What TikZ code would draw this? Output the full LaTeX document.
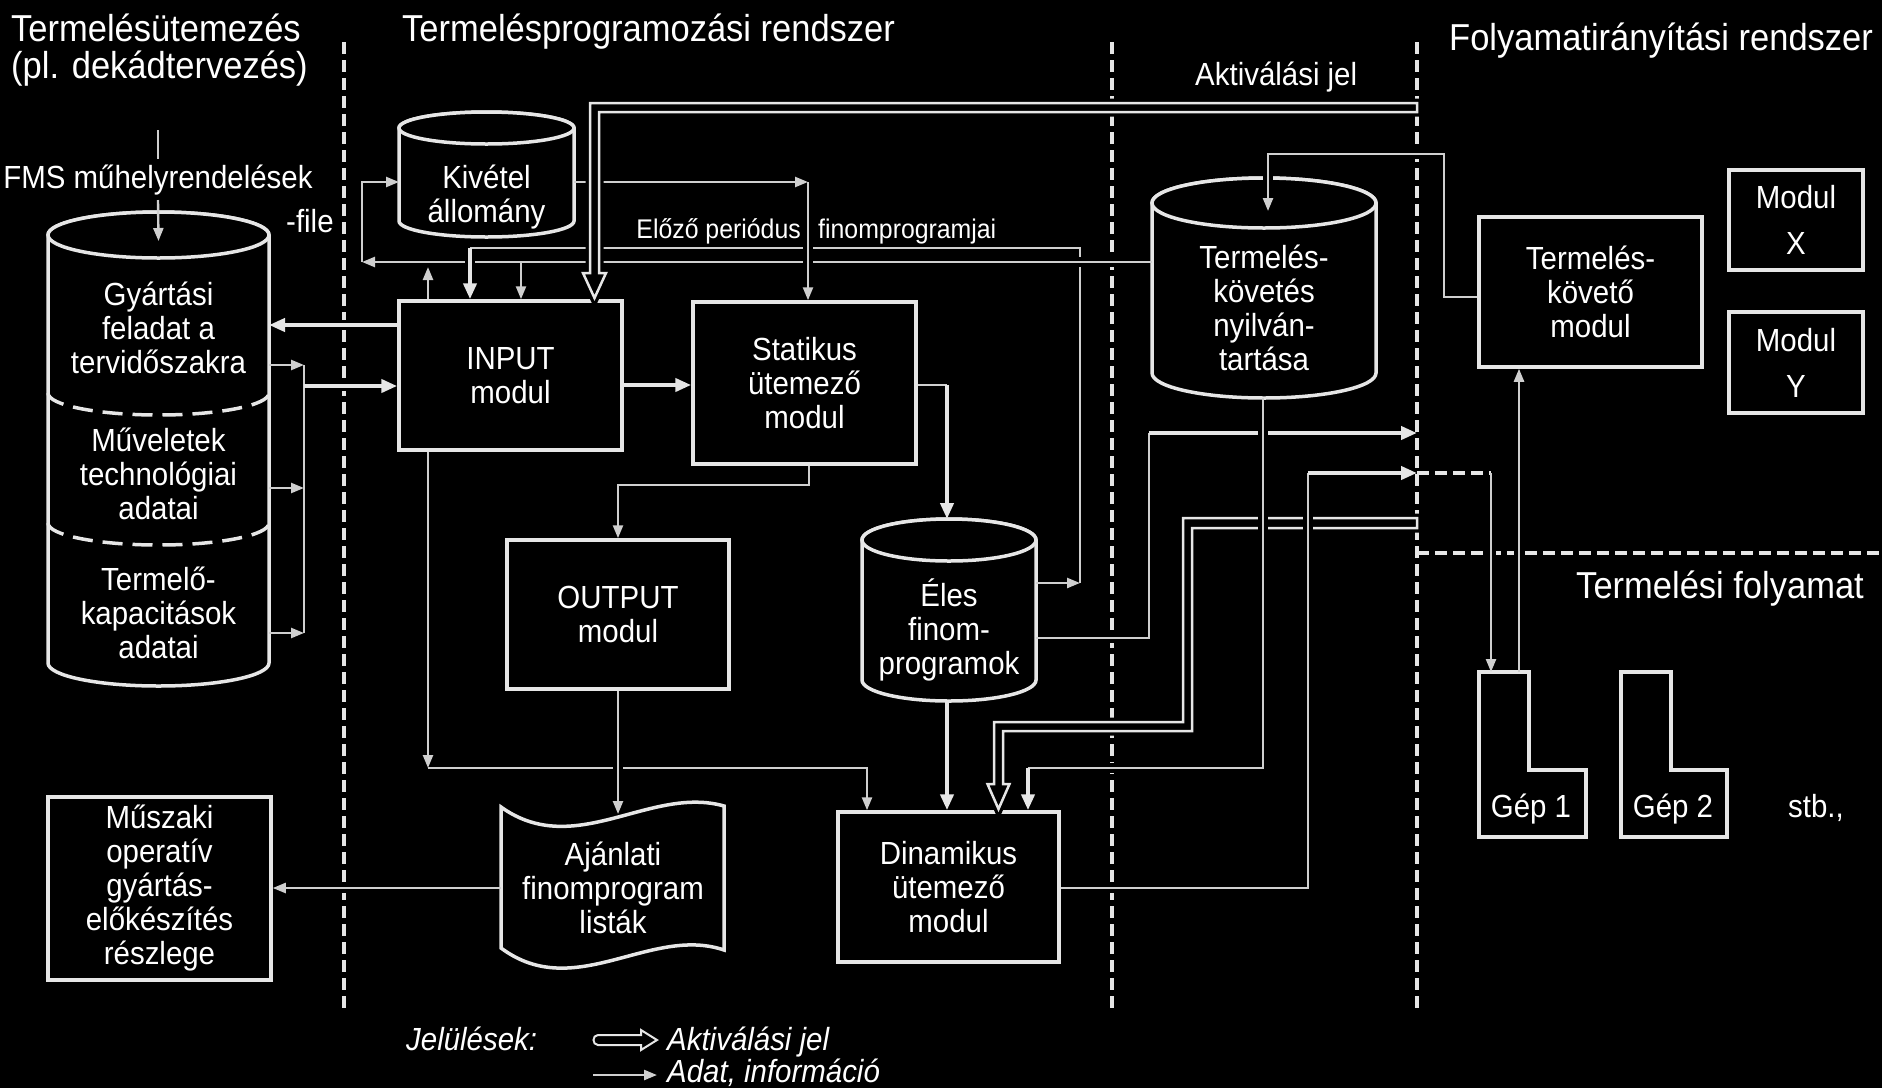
\documentclass[tikz,border=0pt]{standalone}
\usepackage{fontspec}
\setmainfont{Liberation Sans}[FakeStretch=0.92]
\usetikzlibrary{arrows.meta}
\definecolor{fg}{HTML}{E6E6E6}
\definecolor{fgthin}{HTML}{CFCFCF}
\newcommand\bodyf{\fontsize{32}{34}\selectfont}
\newcommand\titlef{\fontsize{37.5}{40}\selectfont}
\newcommand\smallf{\fontsize{27}{30}\selectfont}
\newcommand\mycyl[5]{%
  \draw[shp] (#1-#2,#3) -- (#1-#2,#4) arc[start angle=180,end angle=360,x radius=#2pt,y radius=#5pt]
    -- (#1+#2,#3) arc[start angle=0,end angle=180,x radius=#2pt,y radius=#5pt] -- cycle;
  \draw[shp] (#1,#3) ellipse[x radius=#2pt,y radius=#5pt];}
\tikzset{
  sep/.style={draw=fg, line width=4pt, dash pattern=on 12pt off 6pt},
  shp/.style={draw=fg, line width=3.5pt, fill=black},
  box/.style={draw=fg, line width=3.5pt, fill=black, text=white, font=\bodyf, align=center, inner sep=0pt},
  ghost/.style={inner sep=0pt, outer sep=0pt},
  lbl/.style={text=white, inner sep=0pt},
  ctext/.style={text=white, inner sep=0pt, font=\bodyf, align=center},
  thk/.style={draw=fg, line width=4pt},
  thn/.style={draw=fgthin, line width=2.4pt},
  tipk/.style={-{Triangle[length=16pt,width=13pt]}},
  tipn/.style={-{Triangle[length=13pt,width=10pt]}},
  halo/.style={preaction={draw=black, line width=10pt, -, shorten <=6pt, shorten >=6pt}},
  pipe/.style={draw=fg, line width=2.5pt, fill=black, preaction={draw=black, line width=9pt}},
}
\begin{document}
\begin{tikzpicture}[x=1pt,y=-1pt]
\useasboundingbox (0,0) rectangle (1882,1088);
\fill[black] (0,0) rectangle (1882,1088);

% separators
\draw[sep] (344,42) -- (344,1008);
\draw[sep] (1112,42) -- (1112,1008);
\draw[sep] (1417,42) -- (1417,1008);
\draw[sep] (1417,553) -- (1882,553);

% titles
\node[lbl,font=\titlef,anchor=base west] (t1a) at (11,41) {Termelésütemezés};
\node[lbl,font=\titlef,anchor=base west] (t1b) at (11,78) {(pl. dekádtervezés)};
\node[lbl,font=\titlef,anchor=base west] (t2) at (402,41) {Termelésprogramozási rendszer};
\node[lbl,font=\titlef,anchor=base west] (t3) at (1449,50) {Folyamatirányítási rendszer};
\node[lbl,font=\bodyf,anchor=base west] (t4) at (1195,85) {Aktiválási jel};
\node[lbl,font=\titlef,anchor=base west] (t5) at (1576,598) {Termelési folyamat};

% FMS
\node[lbl,font=\bodyf,anchor=base] (fms) at (158,188) {FMS műhelyrendelések};
\node[lbl,font=\bodyf,anchor=base west] (filel) at (286,232) {-file};

% left cylinder
\mycyl{158.5}{110.5}{235}{663}{23}
\draw[draw=fg, line width=3.5pt, dash pattern=on 20pt off 10pt] (48,393) arc[start angle=180,end angle=360,x radius=110.5pt,y radius=22pt];
\draw[draw=fg, line width=3.5pt, dash pattern=on 20pt off 10pt] (48,523) arc[start angle=180,end angle=360,x radius=110.5pt,y radius=22pt];
\node[ghost,minimum width=221pt,minimum height=474pt] (gy) at (158.5,449) {};
\node[ctext] (gya) at (158.5,328) {Gyártási\\feladat a\\tervidőszakra};
\node[ctext] (gyb) at (158.5,474) {Műveletek\\technológiai\\adatai};
\node[ctext] (gyc) at (158.5,613) {Termelő-\\kapacitások\\adatai};

% Kivetel
\mycyl{486.5}{87.5}{128}{221}{16}
\node[ghost,minimum width=175pt,minimum height=125pt] (kiv) at (486.5,174.5) {};
\node[ctext] (kivt) at (486.5,197) {Kivétel\\állomány};

% boxes
\node[box,minimum width=223pt,minimum height=149pt] (inp) at (510.5,375.5) {INPUT\\modul};
\node[box,minimum width=223pt,minimum height=162pt] (st) at (804.5,383) {Statikus\\ütemező\\modul};
\node[box,minimum width=222pt,minimum height=149pt] (out) at (618,614.5) {OUTPUT\\modul};
\node[box,minimum width=221pt,minimum height=150pt] (din) at (948.5,887) {Dinamikus\\ütemező\\modul};
\node[box,minimum width=223pt,minimum height=183pt] (mu) at (159.5,888.5) {Műszaki\\operatív\\gyártás-\\előkészítés\\részlege};
\node[box,minimum width=223pt,minimum height=150pt] (tkm) at (1590.5,292) {Termelés-\\követő\\modul};
\node[box,minimum width=134pt,minimum height=100pt,font=\fontsize{32}{46}\selectfont] (mx) at (1796,220) {Modul\\X};
\node[box,minimum width=134pt,minimum height=101pt,font=\fontsize{32}{46}\selectfont] (my) at (1796,362.5) {Modul\\Y};

% Eles
\mycyl{949}{87}{540}{680}{21}
\node[ghost,minimum width=174pt,minimum height=182pt] (eles) at (949,610) {};
\node[ctext] (elest) at (949,630) {Éles\\finom-\\programok};

% Termeles-kovetes
\mycyl{1264}{112}{203}{373}{25}
\node[ghost,minimum width=224pt,minimum height=220pt] (tk) at (1264,288) {};
\node[ctext] (tkt) at (1264,308) {Termelés-\\követés\\nyilván-\\tartása};

% Ajanlati tape
\draw[shp] (501,807) .. controls (575,860) and (650,785) .. (724,806) -- (724,950)
  .. controls (650,925) and (575,1003) .. (501,948) -- cycle;
\node[ghost,minimum width=223pt,minimum height=142pt] (aj) at (612.5,878) {};
\node[ctext] (ajt) at (613,888) {Ajánlati\\finomprogram\\listák};

% machines
\draw[shp] (1479,672) -- (1529,672) -- (1529,770) -- (1586,770) -- (1586,837) -- (1479,837) -- cycle;
\draw[shp] (1621,672) -- (1671,672) -- (1671,770) -- (1727,770) -- (1727,837) -- (1621,837) -- cycle;
\node[ghost,minimum width=50pt,minimum height=165pt] (gep1) at (1504,754.5) {};
\node[ghost,minimum width=50pt,minimum height=165pt] (gep2) at (1646,754.5) {};
\node[lbl,font=\bodyf,anchor=base] (g1t) at (1531,817) {Gép 1};
\node[lbl,font=\bodyf,anchor=base] (g2t) at (1673,817) {Gép 2};
\node[lbl,font=\bodyf,anchor=base] (stb) at (1816,817) {stb.,};

% labels
\node[lbl,font=\smallf,anchor=base east] (el1) at (801,238) {Előző periódus};
\node[lbl,font=\smallf,anchor=base west] (el2) at (818,238) {finomprogramjai};

% ---- connectors ----
\draw[thn] (fms.north |- 0,130) -- (fms.north |- 0,159);
\draw[thn,tipn] (fms.south |- 0,200) -- (gy.north |- 0,241);

\draw[thk,tipk,halo] (inp.west |- 0,325) -- (gy.east |- 0,325);
\foreach \yy in {365,488,633} \draw[thn,tipn] (gy.east |- 0,\yy) -- (304,\yy);
\draw[thn] (304,365) -- (304,633);
\draw[thk,tipk,halo] (304,386) -- (inp.west |- 0,386);

\draw[thk,tipk] (inp.east |- 0,385) -- (st.west |- 0,385);
\draw[thn] (st.east |- 0,385) -- (947,385);
\draw[thk,tipk,halo] (947,385) -- (eles.north -| 947,548);

\draw[thn,tipn] (st.south -| 809,0) -- (809,485) -- (618,485) -- (out.north);

\draw[thn,tipn] (inp.south -| 428,0) -- (428,768);
\draw[thn,tipn] (428,768) -- (867,768) -- (din.north -| 867,0);
\draw[thn,tipn,halo] (out.south) -- (618,814);
\draw[thn,tipn,halo] (aj.west |- 0,888) -- (mu.east |- 0,888);

\draw[thk,tipk] (eles.south -| 947,0) -- (din.north -| 947,0);

\draw[thn,tipn] (eles.east |- 0,583) -- (1080,583);
\draw[thn] (1080,583) -- (1080,248) -- (470,248);

\draw[thn,tipn,halo] (tk.west |- 0,262) -- (362,262);
\draw[thn,tipn] (362,262) -- (362,182) -- (kiv.west |- 0,182);
\draw[thn,tipn] (521,262) -- (inp.north -| 521,0);
\draw[thk,tipk,halo] (470,248) -- (inp.north -| 470,0);
\draw[thn,tipn] (inp.north -| 428,0) -- (428,267);

\draw[thn,tipn] (kiv.east |- 0,182) -- (808,182);
\draw[thn,tipn,halo] (808,182) -- (st.north -| 808,0);

\draw[thn,halo] (eles.east |- 0,638) -- (1149,638) -- (1149,433);
\draw[thk,tipk] (1149,433) -- (1417,433);

% activation pipes
\draw[pipe] (1417,103) -- (590,103) -- (590,273) -- (583,273) -- (594.5,298) -- (606,273)
  -- (599,273) -- (599,112) -- (1417,112) -- cycle;
\draw[pipe] (1417,518) -- (1183,518) -- (1183,722) -- (994,722) -- (994,784) -- (987.5,784)
  -- (998.5,809) -- (1009.5,784) -- (1003,784) -- (1003,731) -- (1192,731) -- (1192,528) -- (1417,528) -- cycle;

\draw[thn,halo] (tk.south -| 1263,0) -- (1263,768) -- (1028,768);
\draw[thk,tipk] (1028,768) -- (din.north -| 1028,0);

\draw[thn,halo] (din.east |- 0,888) -- (1308,888) -- (1308,473);
\draw[thk,tipk] (1308,473) -- (1417,473);
\draw[thk,dash pattern=on 12pt off 6pt] (1417,473) -- (1491,473);
\draw[thn,tipn,halo] (1491,473) -- (gep1.north -| 1491,0);

\draw[thn,tipn,halo] (tkm.west |- 0,297) -- (1444,297) -- (1444,154) -- (1268,154) -- (1268,211);
\draw[thn,tipn,halo] (gep1.north -| 1519,0) -- (tkm.south -| 1519,0);

% legend
\node[lbl,font=\bodyf\itshape,anchor=base west] (leg0) at (406,1050) {Jelülések:};
\draw[draw=fg,line width=2pt] (598,1035) -- (641,1035) -- (641,1030) -- (657,1040) -- (641,1050)
  -- (641,1045) -- (598,1045) .. controls (592,1045) and (592,1035) .. (598,1035) -- cycle;
\node[lbl,font=\bodyf\itshape,anchor=base west] (leg1) at (667,1050) {Aktiválási jel};
\node[lbl,font=\bodyf\itshape,anchor=base west] (leg2) at (667,1082) {Adat, információ};
\coordinate (legs) at (593,1075);
\coordinate (lege) at (657,1075);
\draw[thn,tipn] (legs) -- (lege);
\end{tikzpicture}
\end{document}
